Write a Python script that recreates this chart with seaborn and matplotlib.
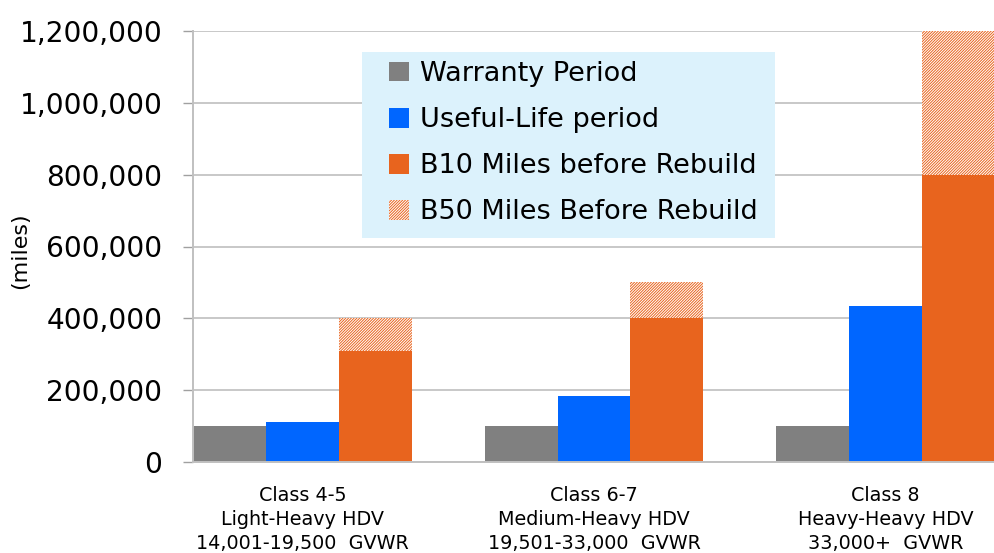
import pandas as pd
import matplotlib
matplotlib.use("Agg")
import matplotlib.pyplot as plt
import matplotlib.patches as mpatches
from matplotlib.ticker import FuncFormatter
import seaborn as sns

# data
classes = ["Class 4-5\nLight-Heavy HDV\n14,001-19,500  GVWR",
           "Class 6-7\nMedium-Heavy HDV\n19,501-33,000  GVWR",
           "Class 8\nHeavy-Heavy HDV\n33,000+  GVWR"]
warranty = [100000, 100000, 100000]
useful_life = [110000, 185000, 435000]
b10_miles = [310000, 400000, 800000]
b50_miles = [400000, 500000, 1200000]

series_names = ["Warranty Period", "Useful-Life period",
                "B10 Miles before Rebuild", "B50 Miles Before Rebuild"]
colors = {"Warranty Period": "#808080",
          "Useful-Life period": "#0066ff",
          "B10 Miles before Rebuild": "#e8641e"}
hatch_col = "#e8641e"
hatch_pat = "/" * 12

df = pd.DataFrame({
    "vehicle_class": classes * 3,
    "series": [series_names[0]] * 3 + [series_names[1]] * 3 + [series_names[2]] * 3,
    "miles": warranty + useful_life + b10_miles,
})

sns.set_style("white")
plt.rcParams['font.family'] = ['DejaVu Sans']
plt.rcParams['hatch.linewidth'] = 0.7

fig = plt.figure(figsize=(9.95, 5.53), dpi=100)
ax = fig.add_axes([193 / 995, 1 - 462 / 553, 802 / 995, 431 / 553])

sns.barplot(data=df, x="vehicle_class", y="miles", hue="series",
            hue_order=series_names[:3], palette=colors, width=0.75,
            saturation=1, legend=False, ax=ax, linewidth=0)

# B50 hatched segment stacked on top of the B10 bars
for bar, lo, hi in zip(ax.containers[2], b10_miles, b50_miles):
    ax.bar(bar.get_x(), hi - lo, bottom=lo, width=bar.get_width(), align="edge",
           facecolor="white", edgecolor=hatch_col, hatch=hatch_pat, linewidth=0, zorder=2)

ax.set_xlim(-0.375, 2.375)
ax.set_ylim(0, 1200000)
ax.set_yticks(range(0, 1200001, 200000))
ax.yaxis.set_major_formatter(FuncFormatter(lambda v, p: f"{v:,.0f}"))
ax.set_axisbelow(True)
ax.grid(axis="y", color="#c8c8c8", linewidth=1.4)
ax.grid(axis="x", visible=False)

for s in ["top", "right"]:
    ax.spines[s].set_visible(False)
ax.spines["left"].set_color("#c0c0c0")
ax.spines["bottom"].set_color("#c0c0c0")
ax.spines["left"].set_linewidth(1.4)
ax.spines["bottom"].set_linewidth(1.4)

ax.tick_params(axis="y", which="major", left=True, length=7, width=1.0,
               color="#a0a0a0", labelsize=20.2, pad=15, labelcolor="#000000")
ax.tick_params(axis="x", bottom=False, labelsize=13.8, pad=14, labelcolor="#000000")
for lab in ax.get_xticklabels():
    lab.set_linespacing(1.32)

ax.set_xlabel("")
ax.set_ylabel("(miles)", fontsize=16, color="#000000")
ax.yaxis.set_label_coords(-0.203, 0.49)

# legend box background
box = mpatches.Rectangle(((362 - 193) / 802, (462 - 238) / 431),
                         (775 - 362) / 802, (238 - 52) / 431,
                         transform=ax.transAxes, facecolor="#dcf2fc",
                         edgecolor="none", zorder=3)
ax.add_patch(box)

handles = [mpatches.Patch(facecolor=colors[n], edgecolor="none") for n in series_names[:3]]
handles.append(mpatches.Patch(facecolor="white", edgecolor=hatch_col, hatch=hatch_pat, linewidth=0))
leg = ax.legend(handles, series_names, loc="upper left",
                bbox_to_anchor=((389 - 193) / 802, (462 - 61) / 431),
                frameon=False, fontsize=19.5, borderpad=0, borderaxespad=0,
                handlelength=0.75, handleheight=0.75, handletextpad=0.4,
                labelspacing=0.74, labelcolor="#000000")
leg.set_zorder(4)

plt.savefig("out.png", dpi=100)
